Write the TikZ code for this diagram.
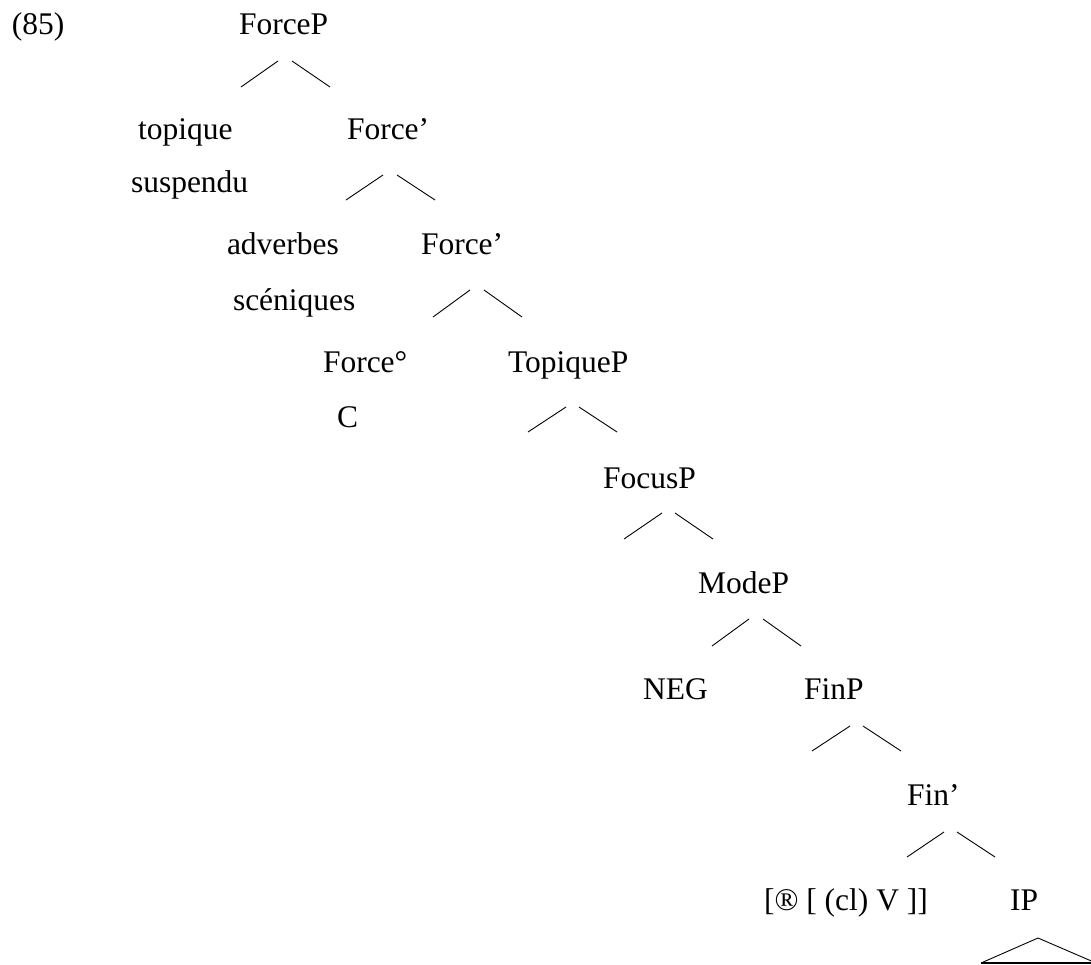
\documentclass[tikz,border=0pt]{standalone}
\usepackage{fontspec}
\setmainfont{Liberation Serif}
\begin{document}
\begin{tikzpicture}[x=1pt,y=-1pt,
  lab/.style={anchor=base west,inner sep=0pt,outer sep=0pt,font=\fontsize{31.5}{37}\selectfont},
  branch/.style={line width=0.9pt}]
\useasboundingbox (0,0) rectangle (1091,965);
% labels
\node[lab] (ex) at (12,35) {(85)};
\node[lab] (forcep) at (239,35) {ForceP};
\node[lab] (topique) at (138,140) {topique};
\node[lab] (suspendu) at (131,193) {suspendu};
\node[lab] (forcebar1) at (347,140) {Force’};
\node[lab] (adverbes) at (227,255) {adverbes};
\node[lab] (sceniques) at (233,310) {scéniques};
\node[lab] (forcebar2) at (421,255) {Force’};
\node[lab] (forcehead) at (323,372) {Force°};
\node[lab] (c) at (337,427) {C};
\node[lab] (topiquep) at (508,372) {TopiqueP};
\node[lab] (focusp) at (603,488) {FocusP};
\node[lab] (modep) at (698,593) {ModeP};
\node[lab] (neg) at (643,699) {NEG};
\node[lab] (finp) at (804,699) {FinP};
\node[lab] (finbar) at (907,805) {Fin’};
\node[lab] (vcl) at (764,910) {[® [ (cl) V ]]};
\node[lab] (ip) at (1010,910) {IP};
% branch end points
\coordinate (a1) at (278,61);  \coordinate (a2) at (241,87);
\coordinate (a3) at (292,61);  \coordinate (a4) at (330,87);
\coordinate (b1) at (383,175); \coordinate (b2) at (346,200);
\coordinate (b3) at (397,175); \coordinate (b4) at (435,200);
\coordinate (c1) at (470,290); \coordinate (c2) at (433,317);
\coordinate (c3) at (484,290); \coordinate (c4) at (522,317);
\coordinate (d1) at (566,407); \coordinate (d2) at (528,432);
\coordinate (d3) at (579,407); \coordinate (d4) at (617,432);
\coordinate (e1) at (662,513); \coordinate (e2) at (624,539);
\coordinate (e3) at (675,513); \coordinate (e4) at (713,539);
\coordinate (f1) at (749,619); \coordinate (f2) at (712,646);
\coordinate (f3) at (763,619); \coordinate (f4) at (801,646);
\coordinate (g1) at (850,726); \coordinate (g2) at (812,751);
\coordinate (g3) at (863,726); \coordinate (g4) at (901,751);
\coordinate (h1) at (944,832); \coordinate (h2) at (907,857);
\coordinate (h3) at (957,832); \coordinate (h4) at (995,857);
\coordinate (t1) at (1038,938); \coordinate (t2) at (981,963); \coordinate (t3) at (1096,963);
% branches
\draw[branch] (a1) -- (a2) (a3) -- (a4);
\draw[branch] (b1) -- (b2) (b3) -- (b4);
\draw[branch] (c1) -- (c2) (c3) -- (c4);
\draw[branch] (d1) -- (d2) (d3) -- (d4);
\draw[branch] (e1) -- (e2) (e3) -- (e4);
\draw[branch] (f1) -- (f2) (f3) -- (f4);
\draw[branch] (g1) -- (g2) (g3) -- (g4);
\draw[branch] (h1) -- (h2) (h3) -- (h4);
\begin{scope}
\clip (0,0) rectangle (1091,965);
\draw[branch] (t2) -- (t1) -- (t3);
\draw[line width=1.6pt] (t2) -- (t3);
\end{scope}
\end{tikzpicture}
\end{document}
